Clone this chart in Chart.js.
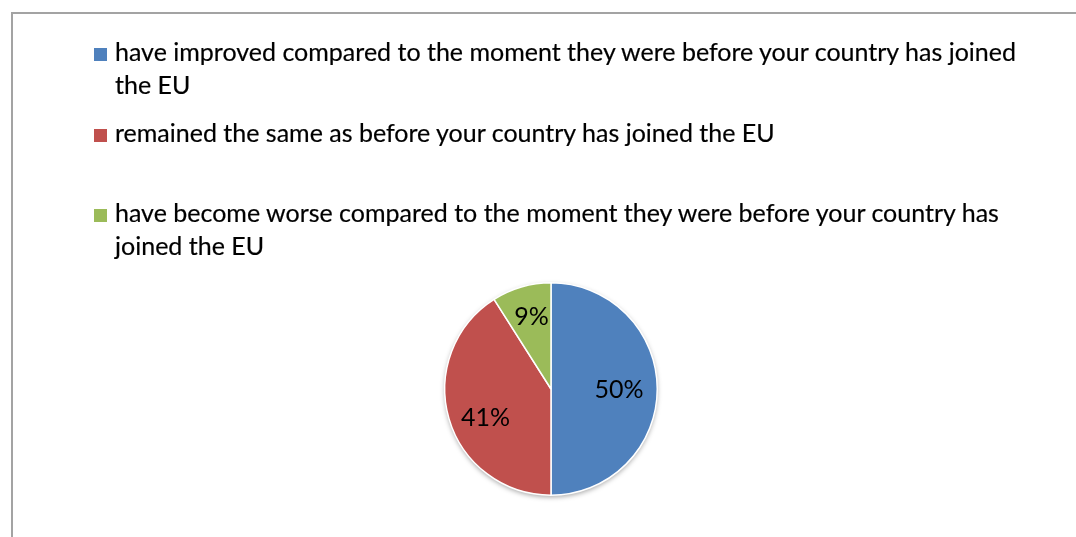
<!DOCTYPE html>
<html>
<head>
<meta charset="utf-8">
<script src="https://cdn.jsdelivr.net/npm/chart.js@4"></script>
<style>
  html, body { margin: 0; padding: 0; width: 1076px; height: 537px; overflow: hidden; background: #fff; }
  #frame { position: absolute; left: 11px; top: 12px; width: 1200px; height: 700px; border: 2px solid #a3a3a3; box-sizing: border-box; }
  #wrap { position: absolute; left: 0; top: 0; width: 1076px; height: 537px; }
  #legend { position: absolute; left: 94px; top: 35px; width: 960px; font-family: Lato, "Open Sans", sans-serif; font-size: 25px; line-height: 33px; color: #000; -webkit-text-stroke: 0.2px #000; }
  .item { position: absolute; left: 0; width: 960px; display: flex; }
  .sw { width: 13px; height: 13px; margin-top: 13px; margin-right: 8px; flex: none; }
  .tx { flex: none; width: 915px; }
</style>
</head>
<body>
<div id="frame"></div>
<div id="wrap"><canvas id="c" width="1076" height="537"></canvas></div>
<div id="legend"></div>
<script>
const categories = [
  "have improved compared to the moment they were before your country has joined the EU",
  "remained the same as before your country has joined the EU",
  "have become worse compared to the moment they were before your country has joined the EU"
];
const values = [50, 41, 9];
const colors = ["#4F81BD", "#C0504D", "#9BBB59"];

// HTML legend built from the chart's labels
const legendEl = document.getElementById('legend');
categories.forEach((lab, i) => {
  const it = document.createElement('div');
  it.className = 'item';
  it.style.top = Math.round(i * 80.5) + 'px';
  const sw = document.createElement('div');
  sw.className = 'sw';
  sw.style.background = colors[i];
  const tx = document.createElement('div');
  tx.className = 'tx';
  tx.textContent = lab;
  it.appendChild(sw); it.appendChild(tx);
  legendEl.appendChild(it);
});

const labelPlugin = {
  id: 'sliceLabels',
  beforeDatasetsDraw(chart) {
    const meta = chart.getDatasetMeta(0);
    const a = meta.data[0];
    if (!a) return;
    const ctx = chart.ctx;
    ctx.save();
    ctx.shadowColor = 'rgba(0,0,0,0.35)';
    ctx.shadowBlur = 5;
    ctx.shadowOffsetY = 2;
    ctx.beginPath();
    ctx.arc(a.x, a.y, a.outerRadius, 0, Math.PI * 2);
    ctx.fillStyle = '#ffffff';
    ctx.fill();
    ctx.restore();
  },
  afterDatasetsDraw(chart) {
    const meta = chart.getDatasetMeta(0);
    const ctx = chart.ctx;
    ctx.save();
    ctx.font = '25px Lato, "Open Sans", sans-serif';
    ctx.fillStyle = '#000';
    ctx.textAlign = 'center';
    ctx.textBaseline = 'middle';
    const fracs = [0.64, 0.67, 0.71];
    const shift = [0, -0.12, 0.02];
    meta.data.forEach((arc, i) => {
      const mid = (arc.startAngle + arc.endAngle) / 2 + shift[i];
      const r = arc.outerRadius * fracs[i];
      const x = arc.x + Math.cos(mid) * r;
      const y = arc.y + Math.sin(mid) * r;
      ctx.fillText(values[i] + '%', x, y + 1);
    });
    ctx.restore();
  }
};

new Chart(document.getElementById('c'), {
  type: 'pie',
  data: {
    labels: categories,
    datasets: [{
      data: values,
      backgroundColor: colors,
      borderColor: '#ffffff',
      borderWidth: 1.5
    }]
  },
  options: {
    responsive: false,
    animation: false,
    layout: { padding: { left: 444, right: 418, top: 282, bottom: 41 } },
    plugins: {
      legend: { display: false },
      tooltip: { enabled: false }
    }
  },
  plugins: [labelPlugin]
});
</script>
</body>
</html>
